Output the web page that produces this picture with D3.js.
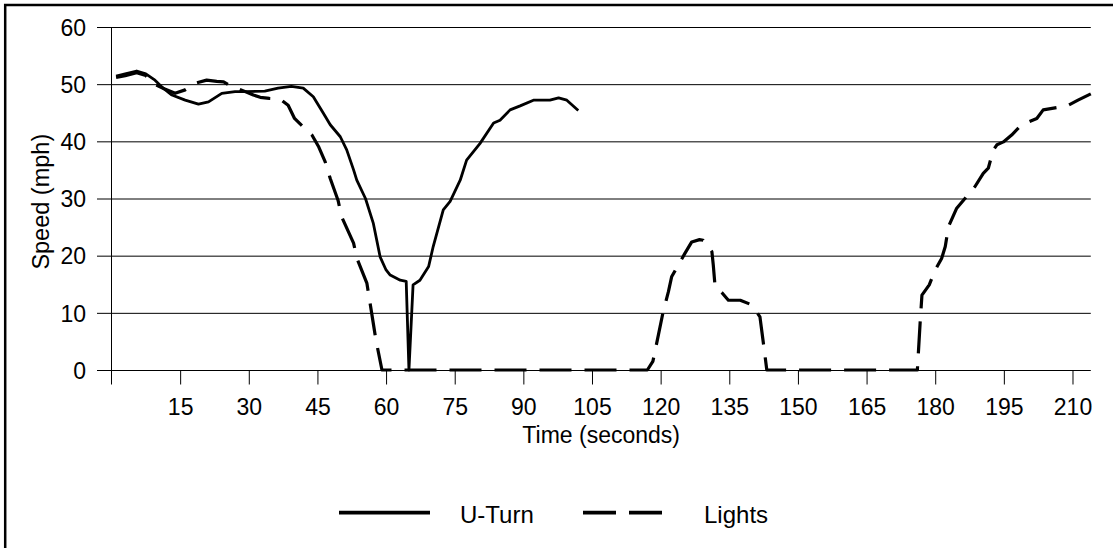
<!DOCTYPE html>
<html>
<head>
<meta charset="utf-8">
<script src="https://cdn.jsdelivr.net/npm/d3@7"></script>
<style>
    html, body { margin: 0; padding: 0; background: #fff; }
    svg text { font-family: Arial, "Liberation Sans", sans-serif; fill: #000; }
</style>
</head>
<body>
<div id="chart"></div>
<script>
const WIDTH = 1113;
const HEIGHT = 548;

// seconds, mph
const uTurnTime = [1, 3, 5.5, 7.5, 9.5, 11.3, 13.2, 16.1, 19, 21.2, 24.1, 27, 29.2, 33.5, 36.4, 39.3,
    41.9, 44.1, 46.3, 47.8, 50, 51.4, 52.9, 53.6, 55.5, 57.2, 58.7, 60, 60.9, 63.1, 64.4, 65,
    65.9, 67.4, 69.3, 70.3, 72.5, 74, 76.2, 77.6, 80.5, 83.5, 84.9, 87.1, 89.3, 92.2, 95.8, 97.7, 99.5, 102];
const uTurnSpeed = [51.4, 51.8, 52.3, 51.8, 50.7, 49.3, 48.1, 47.2, 46.5, 46.9, 48.4, 48.7, 48.7, 48.8, 49.3, 49.6,
    49.3, 47.8, 44.9, 42.9, 40.8, 38.5, 35, 33.2, 30, 25.7, 19.8, 17.5, 16.6, 15.7, 15.5, 0,
    14.9, 15.7, 18.1, 21.6, 28, 29.5, 33.2, 36.7, 39.6, 43.2, 43.7, 45.5, 46.2, 47.2, 47.2, 47.6, 47.2, 45.4];

const lightsTime = [1, 3, 5.5, 7.5, 9.1, 11.5, 13.9, 16.1, 18.5, 20.8, 23, 24.5, 26, 28, 31, 32.5, 34.5, 36.8,
    38.6, 40, 41.9, 43.8, 45.3, 46.7, 47.8, 49.5, 50.3, 52.9, 53.6, 55.8, 57.2, 57.8, 59.1,
    117.1, 118.3, 119.5, 120.5, 121.7, 122.4, 125.3, 126.8, 128.5, 129.3, 131.2, 131.5, 131.9, 133.4,
    134.8, 137.4, 139.9, 141.7, 142.5, 143.2,
    176.1, 176.7, 177.1, 178.7, 180, 181.4, 182.2, 182.9, 184.7, 186.5, 187.3, 188.7, 190.5, 191.6,
    192.7, 193.5, 194.9, 196.7, 198.9, 202.2, 203.6, 208.8, 211.2, 214];
const lightsSpeed = [51.2, 51.5, 52, 51.5, 50.1, 49.2, 48.4, 49, 50.2, 50.7, 50.5, 50.4, 49.7, 49.1, 48.1, 47.7, 47.5, 47.4,
    46.3, 44, 42.5, 41.1, 39, 36.4, 33.5, 29.7, 26.8, 22.2, 19.6, 15.2, 8.2, 5.2, 0,
    0, 1.5, 6.1, 10, 13.7, 16.3, 20.4, 22.4, 22.8, 22.7, 20.7, 18.4, 14.6, 13.5,
    12.2, 12.2, 11.4, 9.3, 4.4, 0,
    0, 8.2, 13.1, 14.9, 17.5, 19.5, 21.6, 25.1, 28.3, 30, 30.9, 32.1, 34.4, 35.3,
    38.5, 39.4, 39.9, 41.1, 42.9, 44, 45.5, 46.2, 47.2, 48.3];

const yTicks = [0, 10, 20, 30, 40, 50, 60];
const xTicks = d3.range(15, 211, 15);
const seriesNames = ["U-Turn", "Lights"];

const PLOT_LEFT = 111.5;
const PLOT_RIGHT = 1090.8;
const PLOT_TOP = 27;
const PLOT_BOTTOM = 370;
const TICK_LEN = 14.5;
const LIGHTS_DASH = "32,13";

const svg = d3.select("#chart")
    .append("svg")
    .attr("width", WIDTH)
    .attr("height", HEIGHT);

svg.append("rect")
    .attr("width", WIDTH)
    .attr("height", HEIGHT)
    .attr("fill", "#fff");

// outer frame, right and bottom edges lie outside the picture
svg.append("rect")
    .attr("x", 5.2)
    .attr("y", 5)
    .attr("width", WIDTH + 20)
    .attr("height", HEIGHT + 20)
    .attr("fill", "none")
    .attr("stroke", "#000")
    .attr("stroke-width", 2.5);

const x = d3.scaleLinear().domain([0, 214]).range([PLOT_LEFT, PLOT_RIGHT]);
const y = d3.scaleLinear().domain([0, 60]).range([PLOT_BOTTOM, PLOT_TOP]);

// gridlines + y ticks
const yAxis = d3.axisLeft(y)
    .tickValues(yTicks)
    .tickSize(-(PLOT_RIGHT - PLOT_LEFT))
    .tickPadding(12)
    .tickFormat(d3.format("d"));

const gy = svg.append("g")
    .attr("transform", "translate(" + PLOT_LEFT + ",0)")
    .call(yAxis);
gy.select(".domain").remove();
gy.selectAll(".tick line")
    .attr("x1", -TICK_LEN)
    .attr("stroke", "#000")
    .attr("stroke-width", 1);
gy.selectAll(".tick text")
    .attr("x", 86 - PLOT_LEFT)
    .attr("dy", "0.36em")
    .style("font-size", "23px");

// y axis line, runs down past the x axis
svg.append("line")
    .attr("x1", PLOT_LEFT).attr("x2", PLOT_LEFT)
    .attr("y1", PLOT_TOP).attr("y2", PLOT_BOTTOM + TICK_LEN)
    .attr("stroke", "#000");

const xAxis = d3.axisBottom(x)
    .tickValues(xTicks)
    .tickSize(TICK_LEN)
    .tickPadding(8)
    .tickFormat(d3.format("d"));

const gx = svg.append("g")
    .attr("transform", "translate(0," + PLOT_BOTTOM + ")")
    .call(xAxis);
gx.select(".domain").remove();
gx.selectAll(".tick line").attr("stroke", "#000");
gx.selectAll(".tick text")
    .attr("y", 45)
    .attr("dy", 0)
    .style("font-size", "23px");

svg.append("text")
    .attr("x", (PLOT_LEFT + PLOT_RIGHT) / 2)
    .attr("y", 443)
    .attr("text-anchor", "middle")
    .style("font-size", "23px")
    .text("Time (seconds)");

svg.append("text")
    .attr("transform", "translate(49," + 201.7 + ") rotate(-90)")
    .attr("text-anchor", "middle")
    .style("font-size", "23.5px")
    .text("Speed (mph)");

// series
const line = d3.line()
    .x(d => x(d[0]))
    .y(d => y(d[1]));

const uTurnData = d3.zip(uTurnTime, uTurnSpeed);
const lightsData = d3.zip(lightsTime, lightsSpeed);

const gLines = svg.append("g").attr("class", "lines");

gLines.append("path")
    .datum(lightsData)
    .attr("d", line)
    .attr("fill", "none")
    .attr("stroke", "#000")
    .attr("stroke-width", 3.2)
    .attr("stroke-dasharray", LIGHTS_DASH)
    .attr("stroke-linejoin", "round");

gLines.append("path")
    .datum(uTurnData)
    .attr("d", line)
    .attr("fill", "none")
    .attr("stroke", "#000")
    .attr("stroke-width", 2.8)
    .attr("stroke-linejoin", "round");

// legend
const legendY = 512.7;
const legend = svg.append("g").attr("class", "legend");

legend.append("line")
    .attr("x1", 339).attr("x2", 430)
    .attr("y1", legendY).attr("y2", legendY)
    .attr("stroke", "#000")
    .attr("stroke-width", 3.7);
legend.append("text")
    .attr("x", 460)
    .attr("y", 522.7)
    .style("font-size", "24px")
    .text(seriesNames[0]);

legend.append("line")
    .attr("x1", 583).attr("x2", 674)
    .attr("y1", legendY).attr("y2", legendY)
    .attr("stroke", "#000")
    .attr("stroke-width", 3.7)
    .attr("stroke-dasharray", "33,13");
legend.append("text")
    .attr("x", 704)
    .attr("y", 522.7)
    .style("font-size", "24px")
    .text(seriesNames[1]);
</script>
</body>
</html>
